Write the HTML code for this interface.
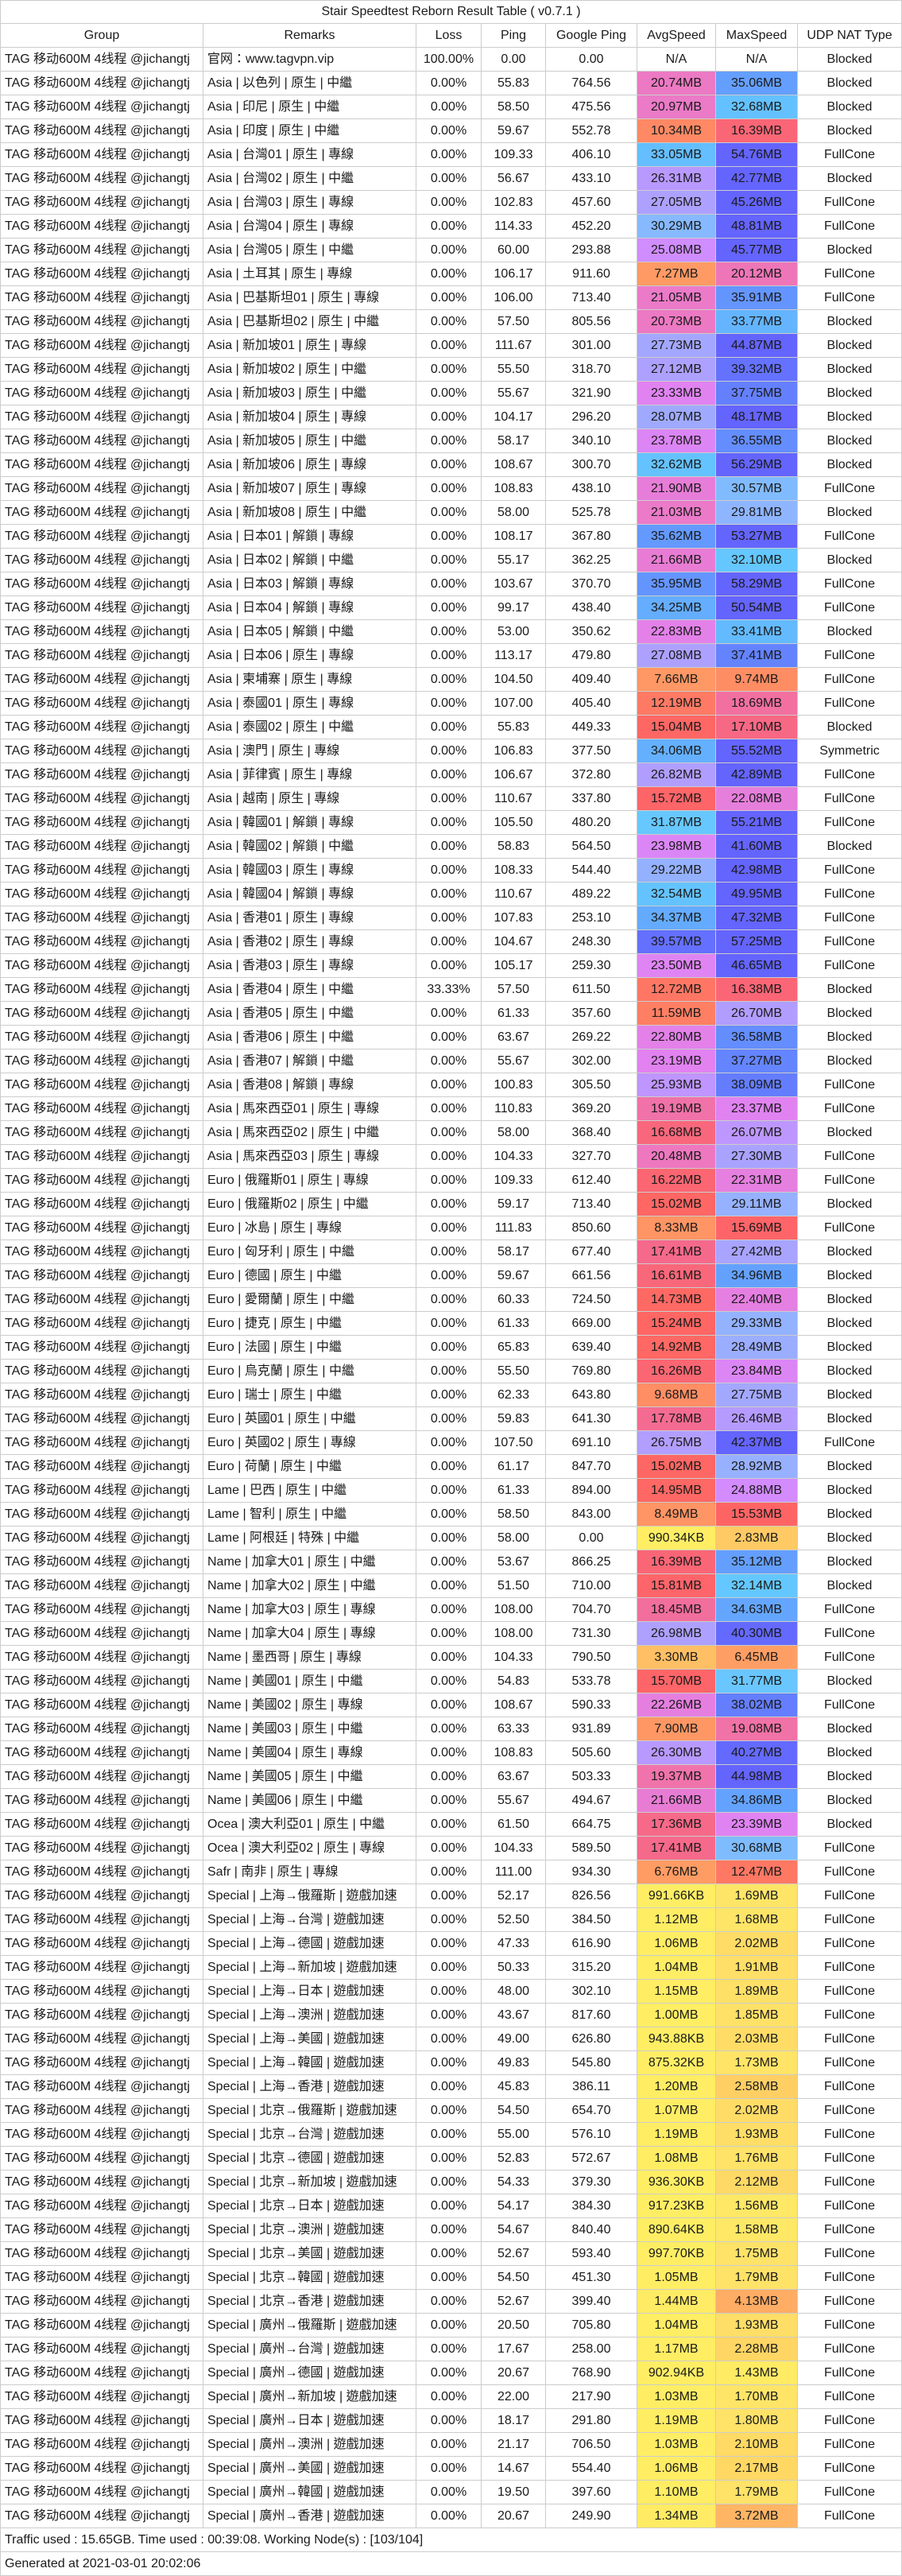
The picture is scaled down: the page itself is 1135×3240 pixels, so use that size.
<!DOCTYPE html>
<html><head><meta charset="utf-8">
<style>
html,body{margin:0;padding:0;background:#fff;}
body{width:1135px;height:3240px;overflow:hidden;font-family:"Liberation Sans","Noto Sans CJK TC","Noto Sans CJK SC",sans-serif;font-size:16px;color:#1a1a1a;}
#t{position:absolute;left:0;top:0;width:1135px;}
.row{display:flex;height:30px;box-sizing:border-box;border-left:1px solid #ccc;border-bottom:1px solid #ccc;}
.row>div{box-sizing:border-box;border-right:1px solid #ccc;height:29px;line-height:29px;text-align:center;white-space:nowrap;overflow:hidden;}
.title{height:30px;border-top:1px solid #ccc;}
.title>div{height:28px;line-height:28px;width:1134px;}
.c1{width:255px;text-align:left!important;padding-left:5px;}
.c2{width:268px;text-align:left!important;padding-left:5px;}
.c3{width:82px}.c4{width:81px}.c5{width:115px}.c6{width:99px}.c7{width:103px}.c8{width:131px}
.full{width:1134px;text-align:left!important;padding-left:5px;}
</style></head><body>
<div id="t">
<div class="row title"><div>Stair Speedtest Reborn Result Table ( v0.7.1 )</div></div>
<div class="row"><div class="c1" style="text-align:center!important;padding:0">Group</div><div class="c2" style="text-align:center!important;padding:0">Remarks</div><div class="c3">Loss</div><div class="c4">Ping</div><div class="c5">Google Ping</div><div class="c6">AvgSpeed</div><div class="c7">MaxSpeed</div><div class="c8">UDP NAT Type</div></div>
<div id="body"></div>
<div class="row"><div class="full">Traffic used : 15.65GB. Time used : 00:39:08. Working Node(s) : [103/104]</div></div>
<div class="row"><div class="full">Generated at 2021-03-01 20:02:06</div></div>
</div>
<script>
var D=[
["官网：www.tagvpn.vip","100.00%","0.00","0.00","N/A","N/A","B"],
["Asia | 以色列 | 原生 | 中繼","","55.83","764.56","20.74MB","35.06MB","B"],
["Asia | 印尼 | 原生 | 中繼","","58.50","475.56","20.97MB","32.68MB","B"],
["Asia | 印度 | 原生 | 中繼","","59.67","552.78","10.34MB","16.39MB","B"],
["Asia | 台灣01 | 原生 | 專線","","109.33","406.10","33.05MB","54.76MB","F"],
["Asia | 台灣02 | 原生 | 中繼","","56.67","433.10","26.31MB","42.77MB","B"],
["Asia | 台灣03 | 原生 | 專線","","102.83","457.60","27.05MB","45.26MB","F"],
["Asia | 台灣04 | 原生 | 專線","","114.33","452.20","30.29MB","48.81MB","F"],
["Asia | 台灣05 | 原生 | 中繼","","60.00","293.88","25.08MB","45.77MB","B"],
["Asia | 土耳其 | 原生 | 專線","","106.17","911.60","7.27MB","20.12MB","F"],
["Asia | 巴基斯坦01 | 原生 | 專線","","106.00","713.40","21.05MB","35.91MB","F"],
["Asia | 巴基斯坦02 | 原生 | 中繼","","57.50","805.56","20.73MB","33.77MB","B"],
["Asia | 新加坡01 | 原生 | 專線","","111.67","301.00","27.73MB","44.87MB","B"],
["Asia | 新加坡02 | 原生 | 中繼","","55.50","318.70","27.12MB","39.32MB","B"],
["Asia | 新加坡03 | 原生 | 中繼","","55.67","321.90","23.33MB","37.75MB","B"],
["Asia | 新加坡04 | 原生 | 專線","","104.17","296.20","28.07MB","48.17MB","B"],
["Asia | 新加坡05 | 原生 | 中繼","","58.17","340.10","23.78MB","36.55MB","B"],
["Asia | 新加坡06 | 原生 | 專線","","108.67","300.70","32.62MB","56.29MB","B"],
["Asia | 新加坡07 | 原生 | 專線","","108.83","438.10","21.90MB","30.57MB","F"],
["Asia | 新加坡08 | 原生 | 中繼","","58.00","525.78","21.03MB","29.81MB","B"],
["Asia | 日本01 | 解鎖 | 專線","","108.17","367.80","35.62MB","53.27MB","F"],
["Asia | 日本02 | 解鎖 | 中繼","","55.17","362.25","21.66MB","32.10MB","B"],
["Asia | 日本03 | 解鎖 | 專線","","103.67","370.70","35.95MB","58.29MB","F"],
["Asia | 日本04 | 解鎖 | 專線","","99.17","438.40","34.25MB","50.54MB","F"],
["Asia | 日本05 | 解鎖 | 中繼","","53.00","350.62","22.83MB","33.41MB","B"],
["Asia | 日本06 | 原生 | 專線","","113.17","479.80","27.08MB","37.41MB","F"],
["Asia | 柬埔寨 | 原生 | 專線","","104.50","409.40","7.66MB","9.74MB","F"],
["Asia | 泰國01 | 原生 | 專線","","107.00","405.40","12.19MB","18.69MB","F"],
["Asia | 泰國02 | 原生 | 中繼","","55.83","449.33","15.04MB","17.10MB","B"],
["Asia | 澳門 | 原生 | 專線","","106.83","377.50","34.06MB","55.52MB","S"],
["Asia | 菲律賓 | 原生 | 專線","","106.67","372.80","26.82MB","42.89MB","F"],
["Asia | 越南 | 原生 | 專線","","110.67","337.80","15.72MB","22.08MB","F"],
["Asia | 韓國01 | 解鎖 | 專線","","105.50","480.20","31.87MB","55.21MB","F"],
["Asia | 韓國02 | 解鎖 | 中繼","","58.83","564.50","23.98MB","41.60MB","B"],
["Asia | 韓國03 | 原生 | 專線","","108.33","544.40","29.22MB","42.98MB","F"],
["Asia | 韓國04 | 解鎖 | 專線","","110.67","489.22","32.54MB","49.95MB","F"],
["Asia | 香港01 | 原生 | 專線","","107.83","253.10","34.37MB","47.32MB","F"],
["Asia | 香港02 | 原生 | 專線","","104.67","248.30","39.57MB","57.25MB","F"],
["Asia | 香港03 | 原生 | 專線","","105.17","259.30","23.50MB","46.65MB","F"],
["Asia | 香港04 | 原生 | 中繼","33.33%","57.50","611.50","12.72MB","16.38MB","B"],
["Asia | 香港05 | 原生 | 中繼","","61.33","357.60","11.59MB","26.70MB","B"],
["Asia | 香港06 | 原生 | 中繼","","63.67","269.22","22.80MB","36.58MB","B"],
["Asia | 香港07 | 解鎖 | 中繼","","55.67","302.00","23.19MB","37.27MB","B"],
["Asia | 香港08 | 解鎖 | 專線","","100.83","305.50","25.93MB","38.09MB","F"],
["Asia | 馬來西亞01 | 原生 | 專線","","110.83","369.20","19.19MB","23.37MB","F"],
["Asia | 馬來西亞02 | 原生 | 中繼","","58.00","368.40","16.68MB","26.07MB","B"],
["Asia | 馬來西亞03 | 原生 | 專線","","104.33","327.70","20.48MB","27.30MB","F"],
["Euro | 俄羅斯01 | 原生 | 專線","","109.33","612.40","16.22MB","22.31MB","F"],
["Euro | 俄羅斯02 | 原生 | 中繼","","59.17","713.40","15.02MB","29.11MB","B"],
["Euro | 冰島 | 原生 | 專線","","111.83","850.60","8.33MB","15.69MB","F"],
["Euro | 匈牙利 | 原生 | 中繼","","58.17","677.40","17.41MB","27.42MB","B"],
["Euro | 德國 | 原生 | 中繼","","59.67","661.56","16.61MB","34.96MB","B"],
["Euro | 愛爾蘭 | 原生 | 中繼","","60.33","724.50","14.73MB","22.40MB","B"],
["Euro | 捷克 | 原生 | 中繼","","61.33","669.00","15.24MB","29.33MB","B"],
["Euro | 法國 | 原生 | 中繼","","65.83","639.40","14.92MB","28.49MB","B"],
["Euro | 烏克蘭 | 原生 | 中繼","","55.50","769.80","16.26MB","23.84MB","B"],
["Euro | 瑞士 | 原生 | 中繼","","62.33","643.80","9.68MB","27.75MB","B"],
["Euro | 英國01 | 原生 | 中繼","","59.83","641.30","17.78MB","26.46MB","B"],
["Euro | 英國02 | 原生 | 專線","","107.50","691.10","26.75MB","42.37MB","F"],
["Euro | 荷蘭 | 原生 | 中繼","","61.17","847.70","15.02MB","28.92MB","B"],
["Lame | 巴西 | 原生 | 中繼","","61.33","894.00","14.95MB","24.88MB","B"],
["Lame | 智利 | 原生 | 中繼","","58.50","843.00","8.49MB","15.53MB","B"],
["Lame | 阿根廷 | 特殊 | 中繼","","58.00","0.00","990.34KB","2.83MB","B"],
["Name | 加拿大01 | 原生 | 中繼","","53.67","866.25","16.39MB","35.12MB","B"],
["Name | 加拿大02 | 原生 | 中繼","","51.50","710.00","15.81MB","32.14MB","B"],
["Name | 加拿大03 | 原生 | 專線","","108.00","704.70","18.45MB","34.63MB","F"],
["Name | 加拿大04 | 原生 | 專線","","108.00","731.30","26.98MB","40.30MB","F"],
["Name | 墨西哥 | 原生 | 專線","","104.33","790.50","3.30MB","6.45MB","F"],
["Name | 美國01 | 原生 | 中繼","","54.83","533.78","15.70MB","31.77MB","B"],
["Name | 美國02 | 原生 | 專線","","108.67","590.33","22.26MB","38.02MB","F"],
["Name | 美國03 | 原生 | 中繼","","63.33","931.89","7.90MB","19.08MB","B"],
["Name | 美國04 | 原生 | 專線","","108.83","505.60","26.30MB","40.27MB","B"],
["Name | 美國05 | 原生 | 中繼","","63.67","503.33","19.37MB","44.98MB","B"],
["Name | 美國06 | 原生 | 中繼","","55.67","494.67","21.66MB","34.86MB","B"],
["Ocea | 澳大利亞01 | 原生 | 中繼","","61.50","664.75","17.36MB","23.39MB","B"],
["Ocea | 澳大利亞02 | 原生 | 專線","","104.33","589.50","17.41MB","30.68MB","F"],
["Safr | 南非 | 原生 | 專線","","111.00","934.30","6.76MB","12.47MB","F"],
["Special | 上海→俄羅斯 | 遊戲加速","","52.17","826.56","991.66KB","1.69MB","F"],
["Special | 上海→台灣 | 遊戲加速","","52.50","384.50","1.12MB","1.68MB","F"],
["Special | 上海→德國 | 遊戲加速","","47.33","616.90","1.06MB","2.02MB","F"],
["Special | 上海→新加坡 | 遊戲加速","","50.33","315.20","1.04MB","1.91MB","F"],
["Special | 上海→日本 | 遊戲加速","","48.00","302.10","1.15MB","1.89MB","F"],
["Special | 上海→澳洲 | 遊戲加速","","43.67","817.60","1.00MB","1.85MB","F"],
["Special | 上海→美國 | 遊戲加速","","49.00","626.80","943.88KB","2.03MB","F"],
["Special | 上海→韓國 | 遊戲加速","","49.83","545.80","875.32KB","1.73MB","F"],
["Special | 上海→香港 | 遊戲加速","","45.83","386.11","1.20MB","2.58MB","F"],
["Special | 北京→俄羅斯 | 遊戲加速","","54.50","654.70","1.07MB","2.02MB","F"],
["Special | 北京→台灣 | 遊戲加速","","55.00","576.10","1.19MB","1.93MB","F"],
["Special | 北京→德國 | 遊戲加速","","52.83","572.67","1.08MB","1.76MB","F"],
["Special | 北京→新加坡 | 遊戲加速","","54.33","379.30","936.30KB","2.12MB","F"],
["Special | 北京→日本 | 遊戲加速","","54.17","384.30","917.23KB","1.56MB","F"],
["Special | 北京→澳洲 | 遊戲加速","","54.67","840.40","890.64KB","1.58MB","F"],
["Special | 北京→美國 | 遊戲加速","","52.67","593.40","997.70KB","1.75MB","F"],
["Special | 北京→韓國 | 遊戲加速","","54.50","451.30","1.05MB","1.79MB","F"],
["Special | 北京→香港 | 遊戲加速","","52.67","399.40","1.44MB","4.13MB","F"],
["Special | 廣州→俄羅斯 | 遊戲加速","","20.50","705.80","1.04MB","1.93MB","F"],
["Special | 廣州→台灣 | 遊戲加速","","17.67","258.00","1.17MB","2.28MB","F"],
["Special | 廣州→德國 | 遊戲加速","","20.67","768.90","902.94KB","1.43MB","F"],
["Special | 廣州→新加坡 | 遊戲加速","","22.00","217.90","1.03MB","1.70MB","F"],
["Special | 廣州→日本 | 遊戲加速","","18.17","291.80","1.19MB","1.80MB","F"],
["Special | 廣州→澳洲 | 遊戲加速","","21.17","706.50","1.03MB","2.10MB","F"],
["Special | 廣州→美國 | 遊戲加速","","14.67","554.40","1.06MB","2.17MB","F"],
["Special | 廣州→韓國 | 遊戲加速","","19.50","397.60","1.10MB","1.79MB","F"],
["Special | 廣州→香港 | 遊戲加速","","20.67","249.90","1.34MB","3.72MB","F"]
];
var S=[[0,255,242,100],[1.4,255,236,100],[1.8,255,226,104],[2.2,255,215,100],[2.9,255,200,100],[4.2,255,170,100],[7,255,155,100],[10,255,140,100],[12.5,255,120,100],[15.5,255,100,100],[17.5,245,105,140],[19.3,240,115,170],[21,235,122,200],[23.2,225,130,240],[25,210,140,255],[26.5,180,155,255],[28,160,170,255],[30,140,182,255],[32,100,200,255],[33.5,100,185,255],[35,100,160,255],[37.5,100,130,255],[41,100,100,255],[100,100,100,255]];
function col(t){if(t=="N/A")return"";var v=parseFloat(t);if(t.indexOf("KB")>0)v=v/1024;
for(var i=0;i<S.length-1;i++){var a=S[i],b=S[i+1];if(v<=b[0]){var f=(v-a[0])/(b[0]-a[0]);if(f<0)f=0;
return"rgb("+Math.round(a[1]+(b[1]-a[1])*f)+","+Math.round(a[2]+(b[2]-a[2])*f)+","+Math.round(a[3]+(b[3]-a[3])*f)+")";}}return"rgb(100,100,255)";}
var N={B:"Blocked",F:"FullCone",S:"Symmetric"},h="";
D.forEach(function(r){var c5=col(r[4]),c6=col(r[5]);
h+='<div class="row"><div class="c1">TAG 移动600M 4线程 @jichangtj</div><div class="c2">'+r[0]+'</div><div class="c3">'+(r[1]||"0.00%")+'</div><div class="c4">'+r[2]+'</div><div class="c5">'+r[3]+'</div><div class="c6"'+(c5?' style="background:'+c5+'"':'')+'>'+r[4]+'</div><div class="c7"'+(c6?' style="background:'+c6+'"':'')+'>'+r[5]+'</div><div class="c8">'+N[r[6]]+'</div></div>';});
document.getElementById("body").innerHTML=h;
</script>
</body></html>
